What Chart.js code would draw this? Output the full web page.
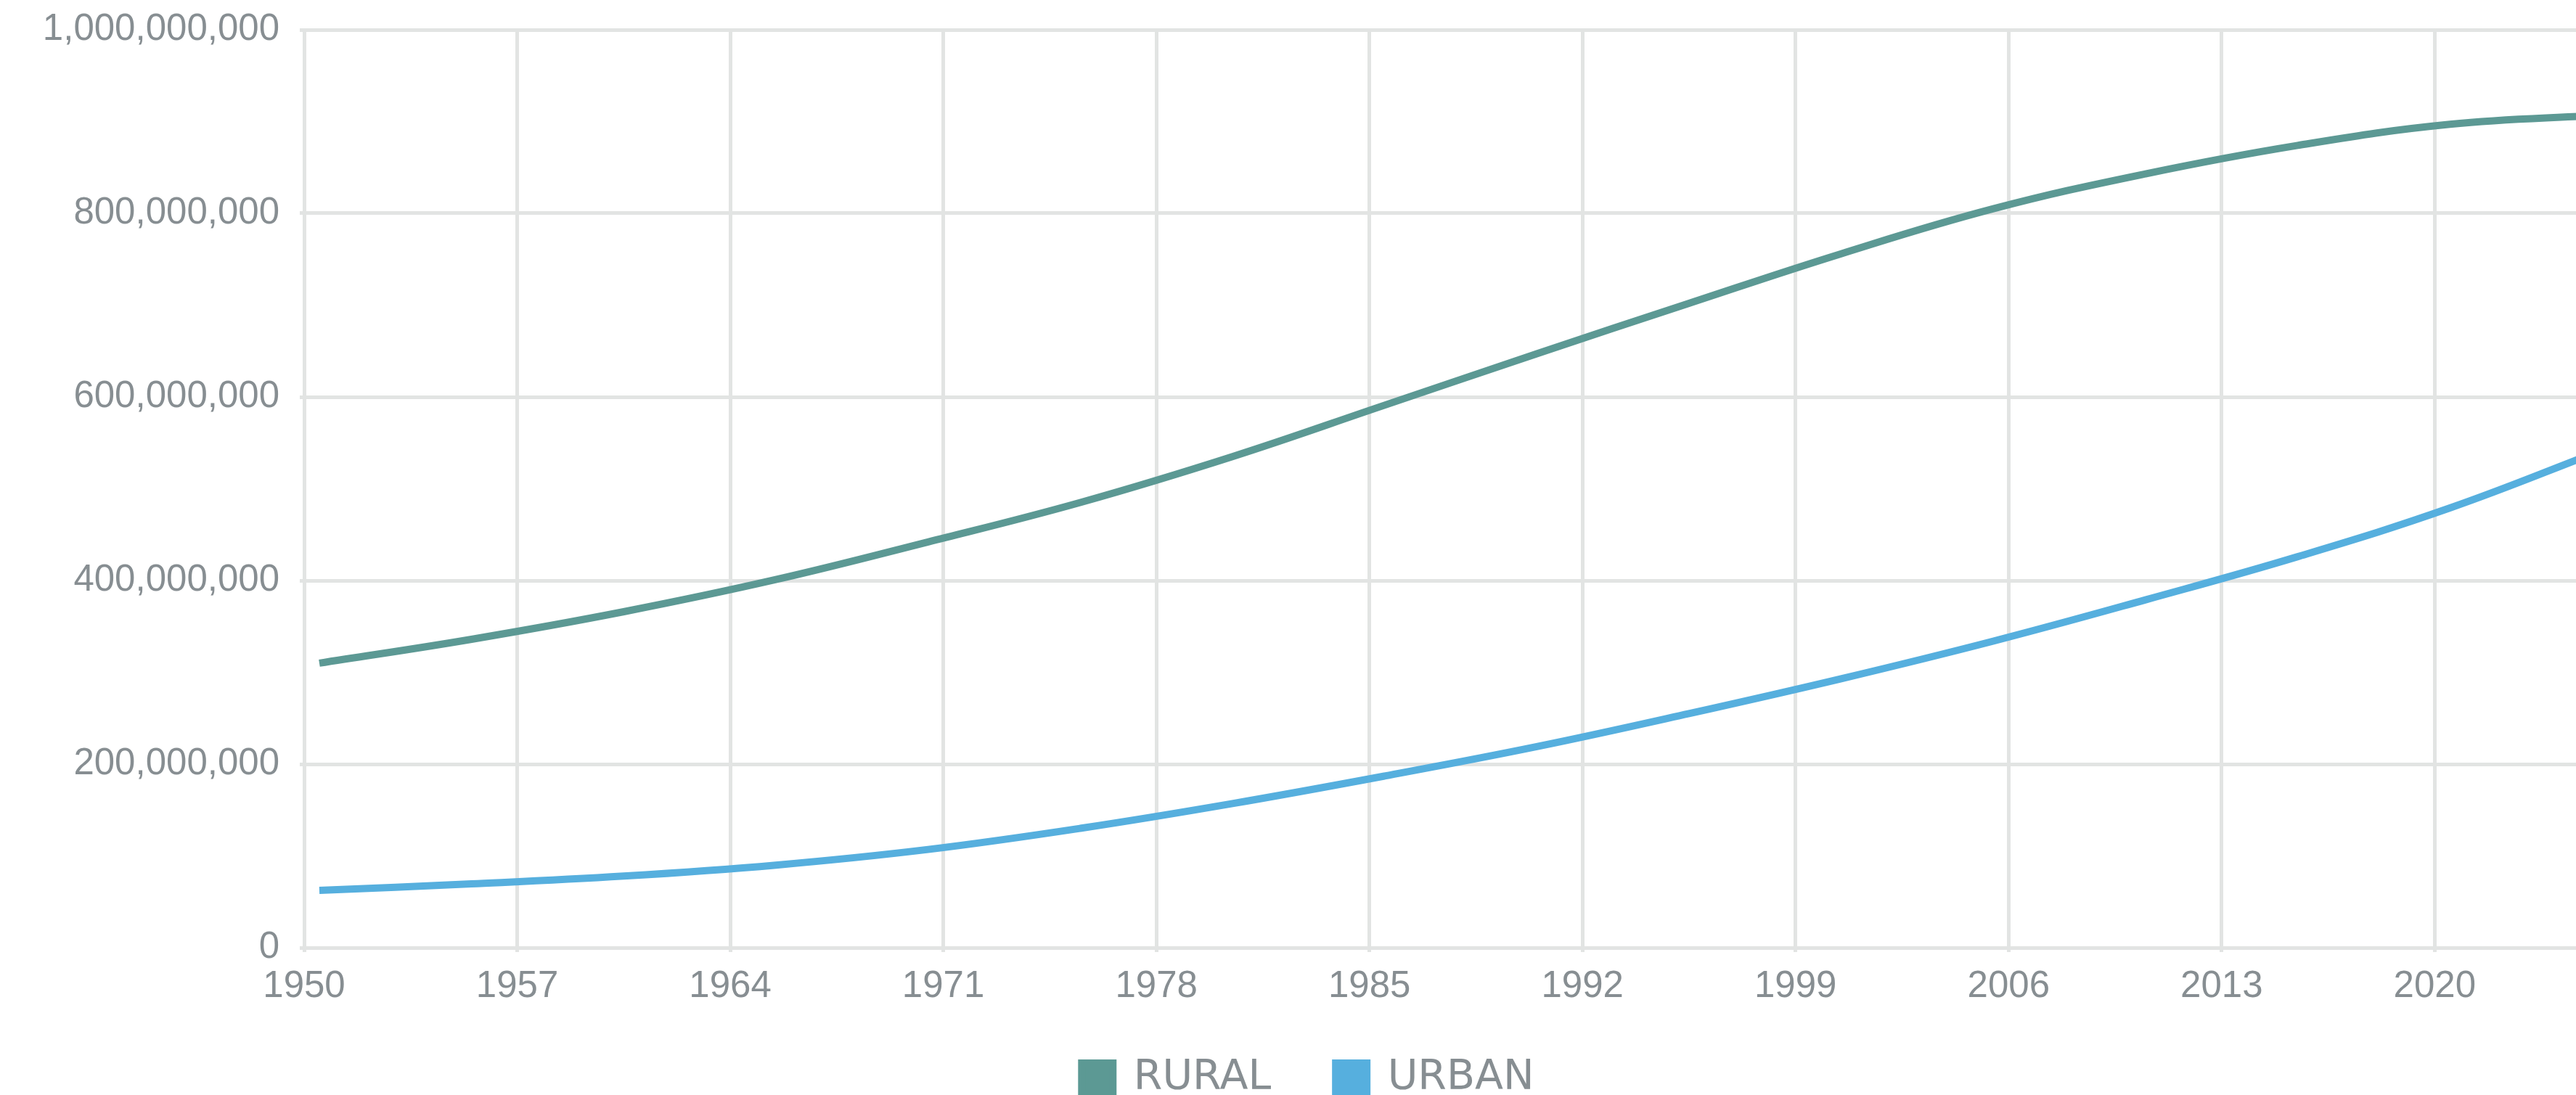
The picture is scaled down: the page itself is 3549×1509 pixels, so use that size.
<!DOCTYPE html>
<html>
<head>
<meta charset="utf-8">
<script src="https://cdn.jsdelivr.net/npm/chart.js@4/dist/chart.umd.min.js"></script>
<style>
  html, body { margin: 0; padding: 0; background: #ffffff; overflow: hidden; }
  #wrap { position: absolute; left: 0; top: 0; width: 3564px; height: 1509px; }
</style>
</head>
<body>
<div id="wrap"><canvas id="c"></canvas></div>
<script>
// Population estimates (as of 1 July of each year), five-year steps
const years = [1950, 1955, 1960, 1965, 1970, 1975, 1980, 1985, 1990, 1995, 2000, 2005, 2010, 2015, 2020, 2025];
const MID_YEAR = 0.5;
const ruralMillions = [310, 336, 366, 401, 442, 485, 535, 591, 647, 702, 756, 805, 843, 874, 897, 907];
const urbanMillions = [62.5, 69.5, 78, 90, 107, 130, 157, 187, 219, 255, 293, 334, 379, 426, 479, 542];
const seriesNames = ['RURAL', 'URBAN'];
const xTickYears = [1950, 1957, 1964, 1971, 1978, 1985, 1992, 1999, 2006, 2013, 2020];
const yTickValues = [0, 200000000, 400000000, 600000000, 800000000, 1000000000];

const toPoints = arr => arr.map((v, i) => ({ x: years[i] + MID_YEAR, y: v * 1e6 }));

const TICK_COLOR = '#878e92';
const GRID_COLOR = '#e2e4e3';

const legendShift = {
  id: 'legendShift',
  afterLayout(chart) {
    const lg = chart.legend;
    const pad = lg.options.labels.padding;
    lg.top = 1458 - pad;
    lg.bottom = 1509;
    lg.height = lg.bottom - lg.top;
    lg.left += 20;
    lg.right += 20;
  }
};

new Chart(document.getElementById('c'), {
  type: 'line',
  data: {
    datasets: [
      {
        label: seriesNames[0],
        data: toPoints(ruralMillions),
        borderColor: '#5c9994',
        backgroundColor: '#5c9994',
        borderWidth: 10,
        pointRadius: 0,
        pointHoverRadius: 0,
        tension: 0.4,
        fill: false
      },
      {
        label: seriesNames[1],
        data: toPoints(urbanMillions),
        borderColor: '#56afde',
        backgroundColor: '#56afde',
        borderWidth: 10,
        pointRadius: 0,
        pointHoverRadius: 0,
        tension: 0.4,
        fill: false
      }
    ]
  },
  options: {
    responsive: true,
    maintainAspectRatio: false,
    animation: false,
    events: [],
    layout: { padding: { top: 41, left: 0, right: 0, bottom: 0 } },
    scales: {
      x: {
        type: 'linear',
        min: 1950,
        max: 2025,
        afterBuildTicks: s => { s.ticks = xTickYears.map(v => ({ value: v })); },
        afterFit: s => { s.height = 145; s.paddingLeft = 0; s.paddingRight = 0; },
        grid: { color: GRID_COLOR, lineWidth: 5, tickLength: 6, drawTicks: true },
        border: { color: GRID_COLOR, width: 5 },
        ticks: {
          autoSkip: false,
          maxRotation: 0,
          padding: 17,
          color: TICK_COLOR,
          font: { family: 'Liberation Sans', size: 51 },
          callback: v => String(v)
        }
      },
      y: {
        min: 0,
        max: 1000000000,
        afterBuildTicks: s => { s.ticks = yTickValues.map(v => ({ value: v })); },
        afterFit: s => { s.width = 419; s.paddingTop = 0; s.paddingBottom = 0; },
        grid: { color: GRID_COLOR, lineWidth: 5, tickLength: 6, drawTicks: true },
        border: { color: GRID_COLOR, width: 5 },
        ticks: {
          padding: 28,
          color: TICK_COLOR,
          font: { family: 'Liberation Sans', size: 51 },
          callback: v => Number(v).toLocaleString('en-US')
        }
      }
    },
    plugins: {
      legend: {
        position: 'bottom',
        maxHeight: 58,
        labels: {
          boxWidth: 43,
          boxHeight: 43,
          padding: 89,
          color: TICK_COLOR,
          font: { family: 'DejaVu Sans', size: 57 }
        }
      },
      tooltip: { enabled: false }
    }
  },
  plugins: [legendShift]
});
</script>
</body>
</html>
